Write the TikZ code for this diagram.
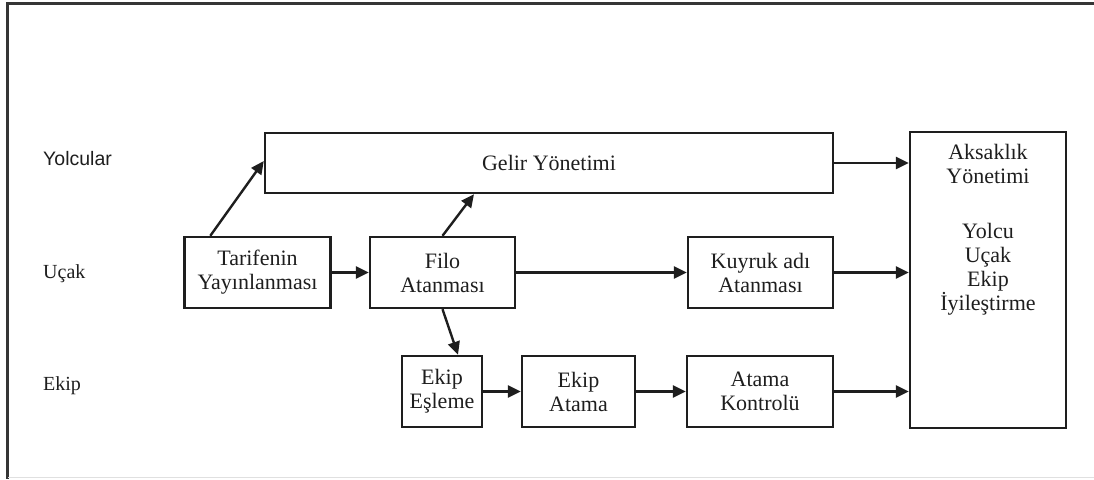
\documentclass[tikz,border=0pt]{standalone}
\usepackage{fontspec}
\setmainfont{Liberation Serif}
\newfontfamily\sanslab{Liberation Sans}
\usetikzlibrary{arrows.meta}
\definecolor{ink}{HTML}{1E1E1E}
\begin{document}
\begin{tikzpicture}[x=1pt,y=-1pt,
  every node/.style={text=ink, font=\fontsize{22}{24}\selectfont},
  procbox/.style={draw=ink, line width=2.4pt, inner sep=0pt, align=center},
  flow/.style={draw=ink, line width=2.4pt, -{Triangle[length=13pt,width=12pt]}},
  rowlabel/.style={anchor=base west, inner sep=0pt, font=\fontsize{20}{22}\selectfont}]
  \useasboundingbox (0,0) rectangle (1094,479);
  % outer frame
  \draw[line width=2.6pt, draw=ink!90] (1094,3.5) -- (7.5,3.5) -- (7.5,479);
  \draw[line width=1pt, draw=black!12] (8,477.5) -- (1094,477.5);

  % row labels
  \node[rowlabel, font=\sanslab\fontsize{19.5}{22}\selectfont] (lyol) at (43,165) {Yolcular};
  \node[rowlabel] (lucak) at (43,278) {Uçak};
  \node[rowlabel] (lekip) at (43,390) {Ekip};

  % process boxes
  \node[procbox, minimum width=568pt, minimum height=60pt] (gelir) at (549,163) {Gelir Yönetimi};
  \node[procbox, minimum width=146pt, minimum height=71pt] (tarif) at (257.5,272.5) {Tarifenin\\Yayınlanması};
  \node[procbox, minimum width=145pt, minimum height=71pt] (filo) at (442.5,272.5) {Filo\\Atanması};
  \node[procbox, minimum width=145pt, minimum height=71pt] (kuyruk) at (760.5,272.5) {Kuyruk adı\\Atanması};
  \node[procbox, minimum width=80pt, minimum height=71pt] (esl) at (442,391.5) {Ekip\\Eşleme};
  \node[procbox, minimum width=113pt, minimum height=71pt] (eatama) at (578.5,391.5) {Ekip\\Atama};
  \node[procbox, minimum width=146pt, minimum height=71pt] (kontrol) at (760,391.5) {Atama\\Kontrolü};
  \node[procbox, minimum width=156pt, minimum height=296pt,
    label={[anchor=north, align=center, inner sep=0pt, yshift=-13pt]north:Aksaklık\\Yönetimi\\[31pt]Yolcu\\Uçak\\Ekip\\İyileştirme}] (aks) at (988,280) {};

  % connectors
  \draw[flow] ([xshift=27pt]tarif.north west) -- ([yshift=2pt]gelir.west);
  \draw[flow] (filo.north) -- ([xshift=-75pt]gelir.south);
  \draw[flow] (filo.south) -- ([xshift=16pt]esl.north);
  \draw[flow] (tarif) -- (filo);
  \draw[flow] (filo) -- (kuyruk);
  \draw[flow] (esl) -- (eatama);
  \draw[flow] (eatama) -- (kontrol);
  \draw[flow] (gelir.east) -- (aks.west |- gelir.east);
  \draw[flow] (kuyruk.east) -- (aks.west |- kuyruk.east);
  \draw[flow] (kontrol.east) -- (aks.west |- kontrol.east);
\end{tikzpicture}
\end{document}
